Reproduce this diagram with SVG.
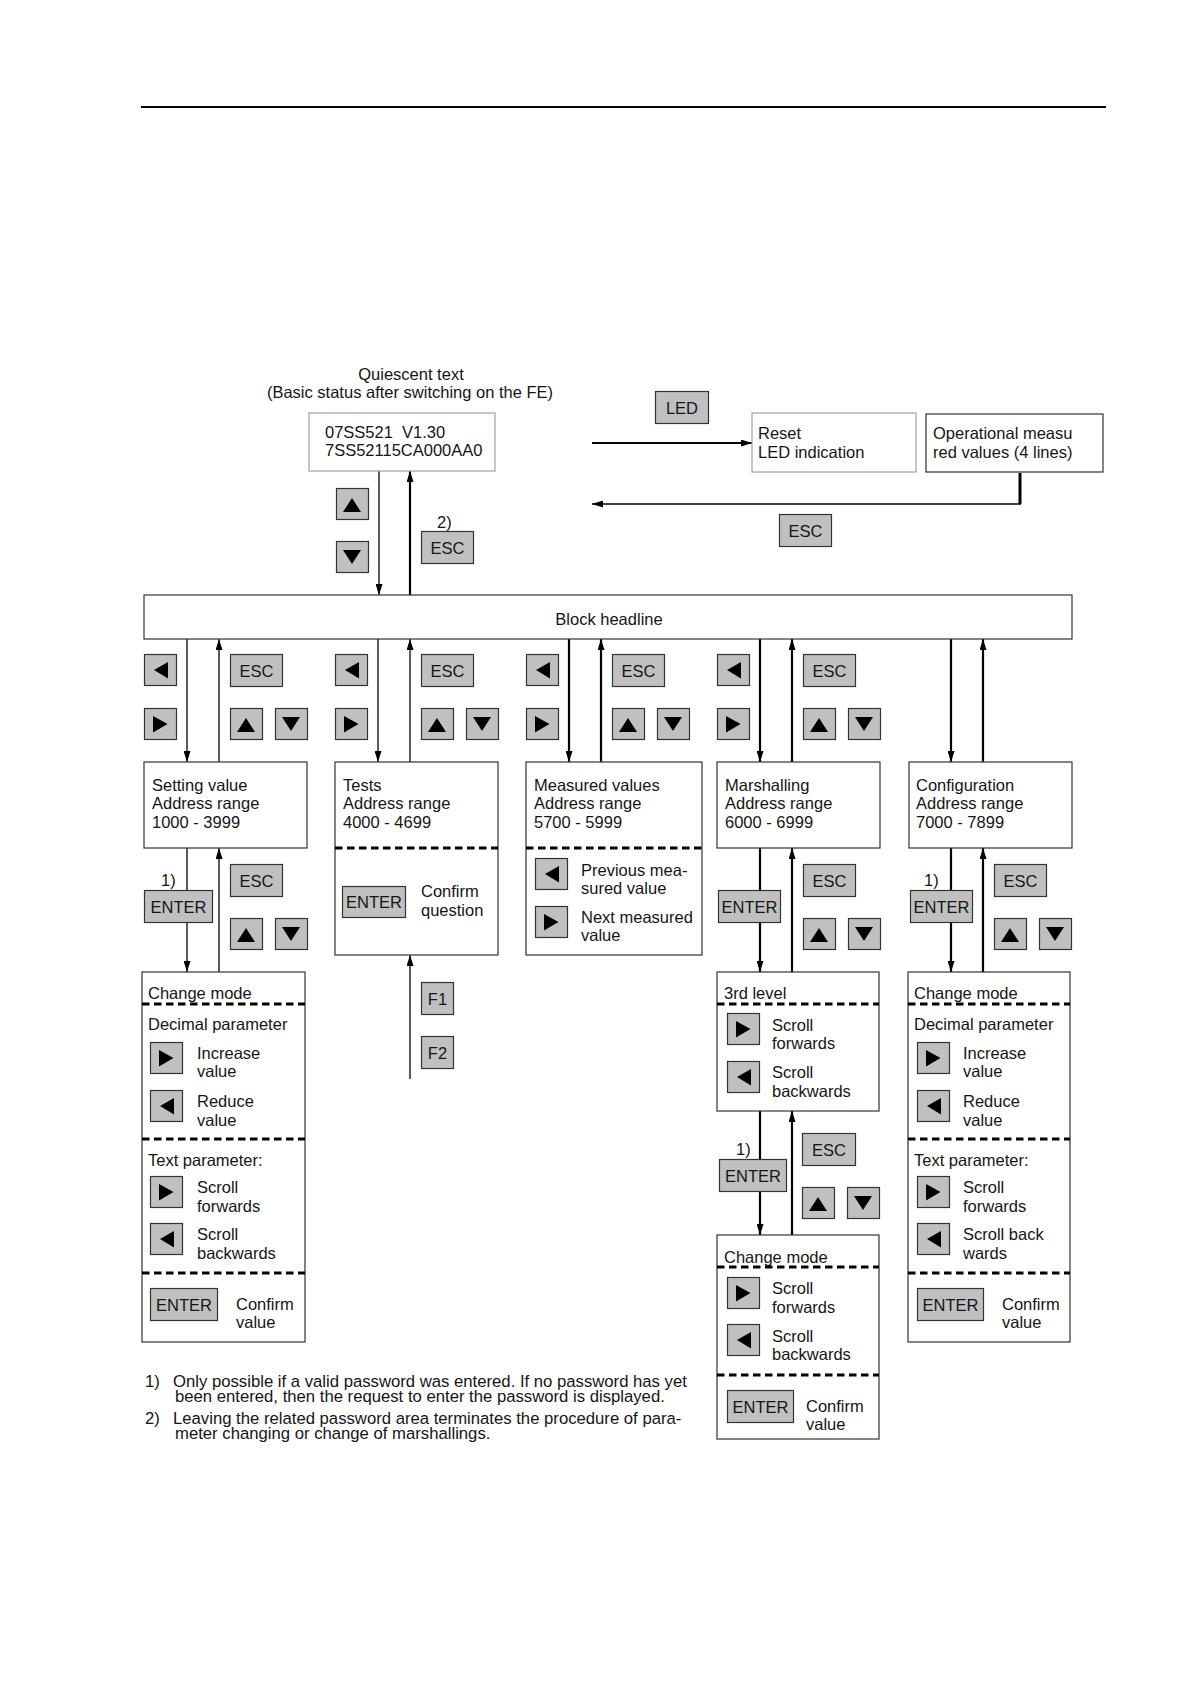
<svg xmlns="http://www.w3.org/2000/svg" width="1190" height="1684" viewBox="0 0 1190 1684">
<style>
  text { font-family: "Liberation Sans", Arial, sans-serif; font-size: 16.5px; fill: #151515; }
  .c { text-anchor: middle; }
  .fn { font-size: 16.7px; }
  .box { fill: #fff; stroke: #333; stroke-width: 1.2; }
  .boxg { fill: #fff; stroke: #a8a8a8; stroke-width: 1.3; }
  .btn { fill: #c0c0c0; stroke: #333; stroke-width: 1.2; }
  .dash { stroke: #000; stroke-width: 2.8; stroke-dasharray: 7.5 4.5; fill: none; }
  .ln { stroke: #000; stroke-width: 1.3; fill: none; }
  .lnb { stroke: #000; stroke-width: 2.2; fill: none; }
  .arr { marker-end: url(#ah); }
</style>
<defs>
  <marker id="ah" markerUnits="userSpaceOnUse" markerWidth="11" markerHeight="7" refX="11" refY="3.5" orient="auto">
    <path d="M0,0 L11,3.5 L0,7 Z" fill="#000"/>
  </marker>
  <g id="bL"><rect x="0.5" y="0.5" width="32" height="31" class="btn"/><path d="M10,16 L24,8 L24,24.5 Z" fill="#000"/></g>
  <g id="bR"><rect x="0.5" y="0.5" width="32" height="31" class="btn"/><path d="M9,8 L23.5,16 L9,24.5 Z" fill="#000"/></g>
  <g id="bU"><rect x="0.5" y="0.5" width="32" height="31" class="btn"/><path d="M7,24 L16,10 L25,24 Z" fill="#000"/></g>
  <g id="bD"><rect x="0.5" y="0.5" width="32" height="31" class="btn"/><path d="M7,9 L25,9 L16,23 Z" fill="#000"/></g>
</defs>

<line x1="141" y1="107" x2="1106" y2="107" stroke="#000" stroke-width="2.2"/>

<g id="connectors">
  <line x1="379" y1="471" x2="379" y2="595" class="ln arr"/>
  <line x1="410" y1="595" x2="410" y2="471" class="lnb arr"/>
  <line x1="592" y1="443" x2="752" y2="443" stroke="#000" stroke-width="2" class="arr"/>
  <path d="M1020,473 V504" stroke="#000" stroke-width="3" fill="none"/>
  <line x1="1021" y1="504" x2="592" y2="504" class="ln arr"/>
  <line x1="187" y1="639" x2="187" y2="762" class="ln arr"/>
  <line x1="219" y1="762" x2="219" y2="639" class="ln arr"/>
  <line x1="378" y1="639" x2="378" y2="762" class="ln arr"/>
  <line x1="410" y1="762" x2="410" y2="639" class="ln arr"/>
  <line x1="569" y1="639" x2="569" y2="762" class="lnb arr"/>
  <line x1="601" y1="762" x2="601" y2="639" class="lnb arr"/>
  <line x1="760" y1="639" x2="760" y2="762" class="lnb arr"/>
  <line x1="792" y1="762" x2="792" y2="639" class="lnb arr"/>
  <line x1="951" y1="639" x2="951" y2="762" class="lnb arr"/>
  <line x1="983" y1="762" x2="983" y2="639" class="lnb arr"/>
  <line x1="187" y1="848" x2="187" y2="972" class="ln arr"/>
  <line x1="219" y1="972" x2="219" y2="848" class="ln arr"/>
  <line x1="410" y1="1079" x2="410" y2="955" class="ln arr"/>
  <line x1="760" y1="848" x2="760" y2="972" class="lnb arr"/>
  <line x1="792" y1="972" x2="792" y2="848" class="lnb arr"/>
  <line x1="951" y1="848" x2="951" y2="972" class="lnb arr"/>
  <line x1="983" y1="972" x2="983" y2="848" class="lnb arr"/>
  <line x1="760" y1="1111" x2="760" y2="1235" class="lnb arr"/>
  <line x1="792" y1="1235" x2="792" y2="1111" class="lnb arr"/>
</g>

<g id="header">
  <text x="411" y="380" class="c">Quiescent text</text>
  <text x="410" y="398" class="c">(Basic status after switching on the FE)</text>
</g>

<g id="quiescent">
  <rect x="309" y="413" width="186" height="58" class="boxg"/>
  <text x="325" y="438" xml:space="preserve">07SS521  V1.30</text>
  <text x="325" y="456">7SS52115CA000AA0</text>
</g>
<g id="top-keys">
  <use href="#bU" x="336" y="488"/>
  <use href="#bD" x="336" y="541"/>
  <text x="437" y="528">2)</text>
  <rect x="421.5" y="531.5" width="52" height="32" class="btn"/>
  <text x="447.5" y="554" class="c">ESC</text>
  <rect x="655.5" y="391.5" width="53" height="32" class="btn"/>
  <text x="682" y="414" class="c">LED</text>
  <rect x="779.5" y="514.5" width="52" height="32" class="btn"/>
  <text x="805.5" y="537" class="c">ESC</text>
</g>
<g id="reset">
  <rect x="752" y="413" width="164" height="59" class="boxg"/>
  <text x="758" y="439">Reset</text>
  <text x="758" y="458">LED indication</text>
</g>
<g id="operational">
  <rect x="926" y="414" width="177" height="58" class="box"/>
  <text x="933" y="439">Operational measu</text>
  <text x="933" y="458">red values (4 lines)</text>
</g>

<g id="block-headline">
  <rect x="144" y="595" width="928" height="44" class="box"/>
  <text x="609" y="625" class="c">Block headline</text>
</g>

<g id="keys-row">
  <use href="#bL" x="144" y="654"/><rect x="230.5" y="654.5" width="52" height="32" class="btn"/><text x="256.5" y="677" class="c">ESC</text>
  <use href="#bR" x="144" y="708"/><use href="#bU" x="230" y="708"/><use href="#bD" x="275" y="708"/>
  <use href="#bL" x="335" y="654"/><rect x="421.5" y="654.5" width="52" height="32" class="btn"/><text x="447.5" y="677" class="c">ESC</text>
  <use href="#bR" x="335" y="708"/><use href="#bU" x="421" y="708"/><use href="#bD" x="466" y="708"/>
  <use href="#bL" x="526" y="654"/><rect x="612.5" y="654.5" width="52" height="32" class="btn"/><text x="638.5" y="677" class="c">ESC</text>
  <use href="#bR" x="526" y="708"/><use href="#bU" x="612" y="708"/><use href="#bD" x="657" y="708"/>
  <use href="#bL" x="717" y="654"/><rect x="803.5" y="654.5" width="52" height="32" class="btn"/><text x="829.5" y="677" class="c">ESC</text>
  <use href="#bR" x="717" y="708"/><use href="#bU" x="803" y="708"/><use href="#bD" x="848" y="708"/>
</g>

<g id="setting-value">
  <rect x="144" y="762" width="163" height="86" class="box"/>
  <text x="152" y="791">Setting value</text>
  <text x="152" y="809">Address range</text>
  <text x="152" y="828">1000 - 3999</text>
</g>
<g id="tests">
  <rect x="335" y="762" width="163" height="193" class="box"/>
  <text x="343" y="791">Tests</text>
  <text x="343" y="809">Address range</text>
  <text x="343" y="828">4000 - 4699</text>
  <line x1="335" y1="848" x2="498" y2="848" class="dash"/>
  <rect x="342.5" y="886.5" width="63" height="31" class="btn"/>
  <text x="374" y="908" class="c">ENTER</text>
  <text x="421" y="897">Confirm</text>
  <text x="421" y="916">question</text>
</g>
<g id="measured-values">
  <rect x="526" y="762" width="176" height="193" class="box"/>
  <text x="534" y="791">Measured values</text>
  <text x="534" y="809">Address range</text>
  <text x="534" y="828">5700 - 5999</text>
  <line x1="526" y1="848" x2="702" y2="848" class="dash"/>
  <use href="#bL" x="535" y="858"/>
  <use href="#bR" x="535" y="906"/>
  <text x="581" y="876">Previous mea-</text>
  <text x="581" y="894">sured value</text>
  <text x="581" y="923">Next measured</text>
  <text x="581" y="941">value</text>
</g>
<g id="marshalling">
  <rect x="717" y="762" width="163" height="86" class="box"/>
  <text x="725" y="791">Marshalling</text>
  <text x="725" y="809">Address range</text>
  <text x="725" y="828">6000 - 6999</text>
</g>
<g id="configuration">
  <rect x="909" y="762" width="163" height="86" class="box"/>
  <text x="916" y="791">Configuration</text>
  <text x="916" y="809">Address range</text>
  <text x="916" y="828">7000 - 7899</text>
</g>

<g id="keys-lower">
  <text x="161" y="886">1)</text>
  <rect x="144.5" y="890.5" width="68" height="32" class="btn"/><text x="178.5" y="913" class="c">ENTER</text>
  <rect x="230.5" y="864.5" width="52" height="32" class="btn"/><text x="256.5" y="887" class="c">ESC</text>
  <use href="#bU" x="230" y="918"/><use href="#bD" x="275" y="918"/>

  <rect x="421.5" y="982.5" width="32" height="32" class="btn"/><text x="437.5" y="1005" class="c">F1</text>
  <rect x="421.5" y="1036.5" width="32" height="32" class="btn"/><text x="437.5" y="1059" class="c">F2</text>

  <rect x="718.5" y="890.5" width="62" height="32" class="btn"/><text x="749.5" y="913" class="c">ENTER</text>
  <rect x="803.5" y="864.5" width="52" height="32" class="btn"/><text x="829.5" y="887" class="c">ESC</text>
  <use href="#bU" x="803" y="918"/><use href="#bD" x="848" y="918"/>

  <text x="924" y="886">1)</text>
  <rect x="910.5" y="890.5" width="62" height="32" class="btn"/><text x="941.5" y="913" class="c">ENTER</text>
  <rect x="994.5" y="864.5" width="52" height="32" class="btn"/><text x="1020.5" y="887" class="c">ESC</text>
  <use href="#bU" x="994" y="918"/><use href="#bD" x="1039" y="918"/>

  <text x="736" y="1155">1)</text>
  <rect x="719.5" y="1159.5" width="67" height="32" class="btn"/><text x="753" y="1182" class="c">ENTER</text>
  <rect x="802.5" y="1133.5" width="53" height="32" class="btn"/><text x="829" y="1156" class="c">ESC</text>
  <use href="#bU" x="802" y="1187"/><use href="#bD" x="847" y="1187"/>
</g>

<g id="change-mode-setting">
  <rect x="142" y="972" width="163" height="370" class="box"/>
  <text x="148" y="999">Change mode</text>
  <line x1="142" y1="1004" x2="305" y2="1004" class="dash"/>
  <text x="148" y="1030">Decimal parameter</text>
  <use href="#bR" x="150" y="1042"/>
  <text x="197" y="1059">Increase</text>
  <text x="197" y="1077">value</text>
  <use href="#bL" x="150" y="1090"/>
  <text x="197" y="1107">Reduce</text>
  <text x="197" y="1126">value</text>
  <line x1="142" y1="1139" x2="305" y2="1139" class="dash"/>
  <text x="148" y="1166">Text parameter:</text>
  <use href="#bR" x="150" y="1176"/>
  <text x="197" y="1193">Scroll</text>
  <text x="197" y="1212">forwards</text>
  <use href="#bL" x="150" y="1223"/>
  <text x="197" y="1240">Scroll</text>
  <text x="197" y="1259">backwards</text>
  <line x1="142" y1="1273" x2="305" y2="1273" class="dash"/>
  <rect x="150.5" y="1288.5" width="67" height="32" class="btn"/><text x="184" y="1311" class="c">ENTER</text>
  <text x="236" y="1310">Confirm</text>
  <text x="236" y="1328">value</text>
</g>

<g id="third-level">
  <rect x="717" y="972" width="162" height="139" class="box"/>
  <text x="724" y="999">3rd level</text>
  <line x1="717" y1="1004" x2="879" y2="1004" class="dash"/>
  <use href="#bR" x="727" y="1013"/>
  <text x="772" y="1031">Scroll</text>
  <text x="772" y="1049">forwards</text>
  <use href="#bL" x="727" y="1061"/>
  <text x="772" y="1078">Scroll</text>
  <text x="772" y="1097">backwards</text>
</g>

<g id="change-mode-marshalling">
  <rect x="717" y="1235" width="162" height="204" class="box"/>
  <text x="724" y="1263">Change mode</text>
  <line x1="717" y1="1267" x2="879" y2="1267" class="dash"/>
  <use href="#bR" x="727" y="1277"/>
  <text x="772" y="1294">Scroll</text>
  <text x="772" y="1313">forwards</text>
  <use href="#bL" x="727" y="1324"/>
  <text x="772" y="1342">Scroll</text>
  <text x="772" y="1360">backwards</text>
  <line x1="717" y1="1375" x2="879" y2="1375" class="dash"/>
  <rect x="727.5" y="1390.5" width="66" height="32" class="btn"/><text x="760.5" y="1413" class="c">ENTER</text>
  <text x="806" y="1412">Confirm</text>
  <text x="806" y="1430">value</text>
</g>

<g id="change-mode-configuration">
  <rect x="908" y="972" width="162" height="370" class="box"/>
  <text x="914" y="999">Change mode</text>
  <line x1="908" y1="1004" x2="1070" y2="1004" class="dash"/>
  <text x="914" y="1030">Decimal parameter</text>
  <use href="#bR" x="917" y="1042"/>
  <text x="963" y="1059">Increase</text>
  <text x="963" y="1077">value</text>
  <use href="#bL" x="917" y="1090"/>
  <text x="963" y="1107">Reduce</text>
  <text x="963" y="1126">value</text>
  <line x1="908" y1="1139" x2="1070" y2="1139" class="dash"/>
  <text x="914" y="1166">Text parameter:</text>
  <use href="#bR" x="917" y="1176"/>
  <text x="963" y="1193">Scroll</text>
  <text x="963" y="1212">forwards</text>
  <use href="#bL" x="917" y="1223"/>
  <text x="963" y="1240">Scroll back</text>
  <text x="963" y="1259">wards</text>
  <line x1="908" y1="1273" x2="1070" y2="1273" class="dash"/>
  <rect x="917.5" y="1288.5" width="66" height="32" class="btn"/><text x="950.5" y="1311" class="c">ENTER</text>
  <text x="1002" y="1310">Confirm</text>
  <text x="1002" y="1328">value</text>
</g>

<g id="footnotes">
  <text x="145" y="1387" class="fn">1)</text>
  <text x="173" y="1387" class="fn">Only possible if a valid password was entered. If no password has yet</text>
  <text x="175" y="1402" class="fn">been entered, then the request to enter the password is displayed.</text>
  <text x="145" y="1424" class="fn">2)</text>
  <text x="173" y="1424" class="fn">Leaving the related password area terminates the procedure of para-</text>
  <text x="175" y="1439" class="fn">meter changing or change of marshallings.</text>
</g>
</svg>
